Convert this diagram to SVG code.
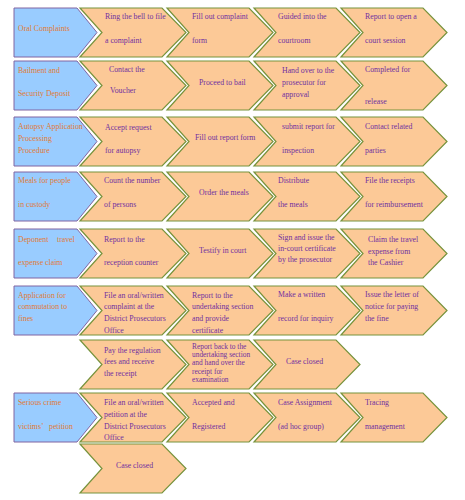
<svg xmlns="http://www.w3.org/2000/svg" width="465" height="500" viewBox="0 0 465 500">
<style>
.b{fill:#99CCFF;stroke:#8064A2;stroke-width:1}
.c{fill:#FCC997;stroke:#77933C;stroke-width:1.2}
text{font-family:"Liberation Serif","Times New Roman",serif;font-size:7.8px}
.bt{fill:#E07A35}
.ct{fill:#7030A0}
</style>
<defs>
<polygon id="blue" class="b" points="14,0 77,0 97,24.5 77,49 14,49"/>
<polygon id="chev" class="c" points="0,0 82,0 106,24.5 82,49 0,49 22,24.5"/>
</defs>
<rect width="465" height="500" fill="#ffffff"/>
<g id="connectors"/>

<!-- Row 1 -->
<g id="oral"><use href="#blue" y="8"/><text class="bt" x="18" y="31">Oral Complaints</text></g>
<g id="oral-1"><use href="#chev" x="80" y="8"/><text class="ct"><tspan x="105" y="19">Ring the bell to file</tspan><tspan x="105" y="43">a complaint</tspan></text></g>
<g id="oral-2"><use href="#chev" x="167" y="8"/><text class="ct"><tspan x="192" y="19">Fill out complaint</tspan><tspan x="192" y="43">form</tspan></text></g>
<g id="oral-3"><use href="#chev" x="254" y="8"/><text class="ct"><tspan x="278" y="19">Guided into the</tspan><tspan x="278" y="43">courtroom</tspan></text></g>
<g id="oral-4"><use href="#chev" x="341" y="8"/><text class="ct"><tspan x="365" y="19">Report to open a</tspan><tspan x="365" y="43">court session</tspan></text></g>

<!-- Row 2 -->
<g id="bail"><use href="#blue" y="61"/><text class="bt"><tspan x="18" y="73">Bailment and</tspan><tspan x="18" y="96">Security Deposit</tspan></text></g>
<g id="bail-1"><use href="#chev" x="80" y="61"/><text class="ct"><tspan x="109" y="71.5">Contact the</tspan><tspan x="110" y="92.5">Voucher</tspan></text></g>
<g id="bail-2"><use href="#chev" x="167" y="61"/><text class="ct" x="199" y="85">Proceed to bail</text></g>
<g id="bail-3"><use href="#chev" x="254" y="61"/><text class="ct"><tspan x="282" y="73">Hand over to the</tspan><tspan x="282" y="85">prosecutor for</tspan><tspan x="282" y="96.5">approval</tspan></text></g>
<g id="bail-4"><use href="#chev" x="341" y="61"/><text class="ct"><tspan x="365" y="71.5">Completed for</tspan><tspan x="365" y="103.5">release</tspan></text></g>

<!-- Row 3 -->
<g id="autopsy"><use href="#blue" y="117"/><text class="bt"><tspan x="18" y="129">Autopsy Application</tspan><tspan x="18" y="141">Processing</tspan><tspan x="18" y="152.5">Procedure</tspan></text></g>
<g id="autopsy-1"><use href="#chev" x="80" y="117"/><text class="ct"><tspan x="105" y="129.5">Accept request</tspan><tspan x="105" y="152.5">for autopsy</tspan></text></g>
<g id="autopsy-2"><use href="#chev" x="167" y="117"/><text class="ct" x="195" y="140">Fill out report form</text></g>
<g id="autopsy-3"><use href="#chev" x="254" y="117"/><text class="ct"><tspan x="282" y="129">submit report for</tspan><tspan x="282" y="152.5">inspection</tspan></text></g>
<g id="autopsy-4"><use href="#chev" x="341" y="117"/><text class="ct"><tspan x="365" y="129">Contact related</tspan><tspan x="365" y="152.5">parties</tspan></text></g>

<!-- Row 4 -->
<g id="meals"><use href="#blue" y="172"/><text class="bt"><tspan x="18" y="183">Meals for people</tspan><tspan x="18" y="207">in custody</tspan></text></g>
<g id="meals-1"><use href="#chev" x="80" y="172"/><text class="ct"><tspan x="104" y="183">Count the number</tspan><tspan x="104" y="207">of persons</tspan></text></g>
<g id="meals-2"><use href="#chev" x="167" y="172"/><text class="ct" x="199" y="195">Order the meals</text></g>
<g id="meals-3"><use href="#chev" x="254" y="172"/><text class="ct"><tspan x="278" y="183">Distribute</tspan><tspan x="278" y="207">the meals</tspan></text></g>
<g id="meals-4"><use href="#chev" x="341" y="172"/><text class="ct"><tspan x="365" y="183">File the receipts</tspan><tspan x="365" y="207">for reimbursement</tspan></text></g>

<!-- Row 5 -->
<g id="deponent"><use href="#blue" y="229"/><text class="bt"><tspan x="18" y="241.5">Deponent</tspan><tspan x="57" y="241.5">travel</tspan><tspan x="18" y="265">expense claim</tspan></text></g>
<g id="deponent-1"><use href="#chev" x="80" y="229"/><text class="ct"><tspan x="104" y="242">Report to the</tspan><tspan x="104" y="265">reception counter</tspan></text></g>
<g id="deponent-2"><use href="#chev" x="167" y="229"/><text class="ct" x="199" y="253">Testify in court</text></g>
<g id="deponent-3"><use href="#chev" x="254" y="229"/><text class="ct"><tspan x="278" y="240">Sign and issue the</tspan><tspan x="278" y="250.5">in-court certificate</tspan><tspan x="278" y="261.5">by the prosecutor</tspan></text></g>
<g id="deponent-4"><use href="#chev" x="341" y="229"/><text class="ct"><tspan x="368" y="241.5">Claim the travel</tspan><tspan x="368" y="253.5">expense from</tspan><tspan x="368" y="265">the Cashier</tspan></text></g>

<!-- Row 6 -->
<g id="commutation"><use href="#blue" y="286"/><text class="bt"><tspan x="18" y="297.5">Application for</tspan><tspan x="18" y="309">commutation to</tspan><tspan x="18" y="321">fines</tspan></text></g>
<g id="commutation-1"><use href="#chev" x="80" y="286"/><text class="ct"><tspan x="104" y="297.5">File an oral/written</tspan><tspan x="104" y="309">complaint at the</tspan><tspan x="104" y="321">District Prosecutors</tspan><tspan x="104" y="332.5">Office</tspan></text></g>
<g id="commutation-2"><use href="#chev" x="167" y="286"/><text class="ct"><tspan x="192" y="297.5">Report to the</tspan><tspan x="192" y="309">undertaking section</tspan><tspan x="192" y="321">and provide</tspan><tspan x="192" y="332.5">certificate</tspan></text></g>
<g id="commutation-3"><use href="#chev" x="254" y="286"/><text class="ct"><tspan x="278" y="297">Make a written</tspan><tspan x="278" y="321">record for inquiry</tspan></text></g>
<g id="commutation-4"><use href="#chev" x="341" y="286"/><text class="ct"><tspan x="365" y="297">Issue the letter of</tspan><tspan x="365" y="309">notice for paying</tspan><tspan x="365" y="321">the fine</tspan></text></g>

<!-- Row 7 -->
<g id="commutation-5"><use href="#chev" x="80" y="340"/><text class="ct"><tspan x="104" y="352.5">Pay the regulation</tspan><tspan x="104" y="364">fees and receive</tspan><tspan x="104" y="375.5">the receipt</tspan></text></g>
<g id="commutation-6"><use href="#chev" x="167" y="340"/><text class="ct" style="font-size:7.4px"><tspan x="192" y="349">Report back to the</tspan><tspan x="192" y="357">undertaking section</tspan><tspan x="192" y="365">and hand over the</tspan><tspan x="192" y="373.5">receipt for</tspan><tspan x="192" y="381.5">examination</tspan></text></g>
<g id="commutation-7"><use href="#chev" x="254" y="340"/><text class="ct" x="286" y="363.5">Case closed</text></g>

<!-- Row 8 -->
<g id="victims"><use href="#blue" y="393"/><text class="bt"><tspan x="18" y="405">Serious crime</tspan><tspan x="18" y="428.5">victims’</tspan><tspan x="49" y="428.5">petition</tspan></text></g>
<g id="victims-1"><use href="#chev" x="80" y="393"/><text class="ct"><tspan x="104" y="405">File an oral/written</tspan><tspan x="104" y="416.5">petition at the</tspan><tspan x="104" y="428.5">District Prosecutors</tspan><tspan x="104" y="440">Office</tspan></text></g>
<g id="victims-2"><use href="#chev" x="167" y="393"/><text class="ct"><tspan x="192" y="405">Accepted and</tspan><tspan x="192" y="428.5">Registered</tspan></text></g>
<g id="victims-3"><use href="#chev" x="254" y="393"/><text class="ct"><tspan x="278" y="405">Case Assignment</tspan><tspan x="278" y="428.5">(ad hoc group)</tspan></text></g>
<g id="victims-4"><use href="#chev" x="341" y="393"/><text class="ct"><tspan x="365" y="405">Tracing</tspan><tspan x="365" y="428.5">management</tspan></text></g>

<!-- Row 9 -->
<g id="victims-5"><use href="#chev" x="80" y="444"/><text class="ct" x="116" y="467.5">Case closed</text></g>
</svg>
